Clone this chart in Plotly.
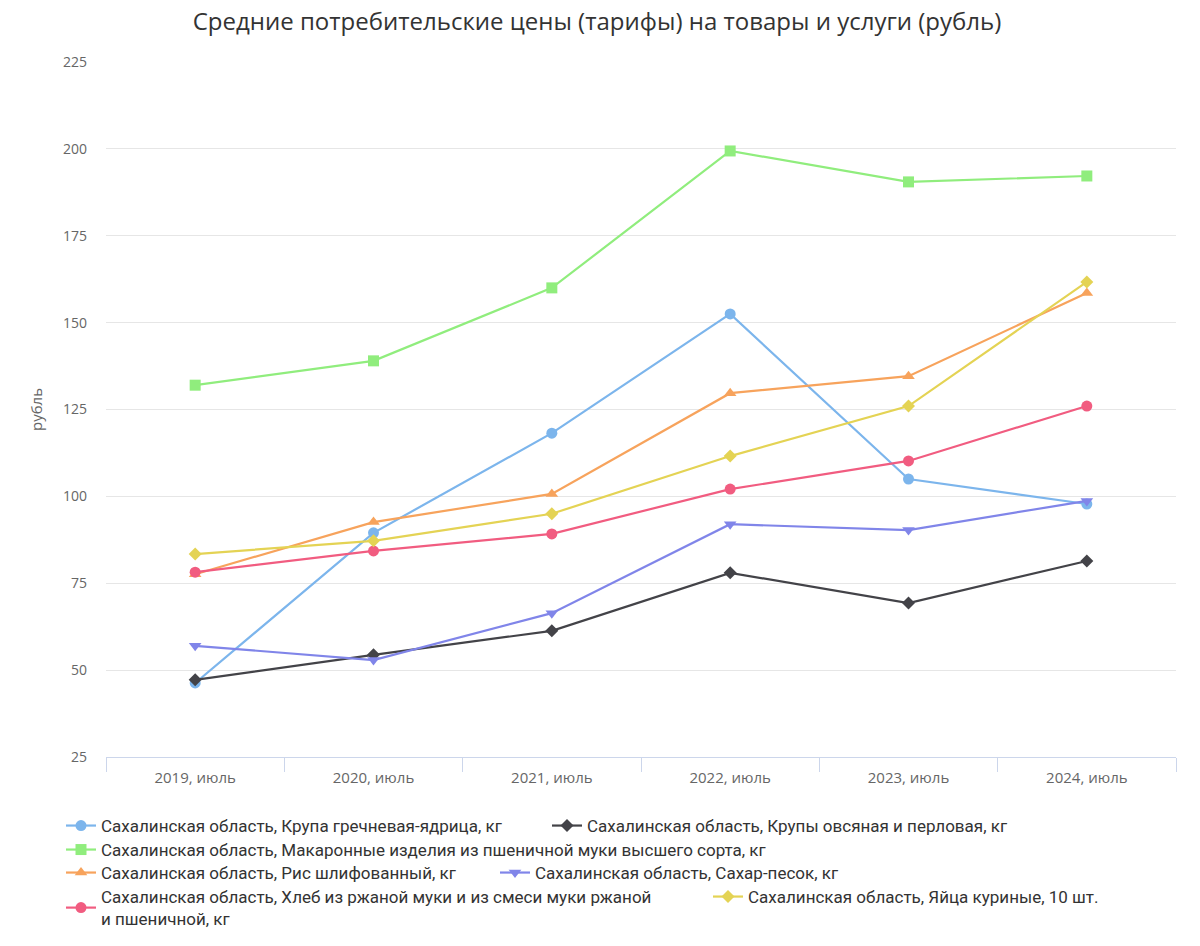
import plotly.graph_objects as go

categories = ["2019, июль", "2020, июль", "2021, июль", "2022, июль", "2023, июль", "2024, июль"]

buckwheat = [46.3, 89.5, 118.2, 152.5, 105.0, 97.8]
oat_pearl = [47.2, 54.4, 61.3, 78.0, 69.3, 81.4]
pasta = [132.0, 139.0, 160.0, 199.4, 190.5, 192.2]
rice = [77.6, 92.6, 100.7, 129.7, 134.6, 158.5]
sugar = [57.0, 52.9, 66.4, 92.0, 90.3, 98.7]
bread = [78.2, 84.3, 89.2, 102.1, 110.2, 126.0]
eggs = [83.4, 87.2, 95.0, 111.6, 126.0, 161.7]

names = [
    "Сахалинская область, Крупа гречневая-ядрица, кг",
    "Сахалинская область, Крупы овсяная и перловая, кг",
    "Сахалинская область, Макаронные изделия из пшеничной муки высшего сорта, кг",
    "Сахалинская область, Рис шлифованный, кг",
    "Сахалинская область, Сахар-песок, кг",
    "Сахалинская область, Хлеб из ржаной муки и из смеси муки ржаной<br>и пшеничной, кг",
    "Сахалинская область, Яйца куриные, 10 шт.",
]
series = [buckwheat, oat_pearl, pasta, rice, sugar, bread, eggs]
colors = ["#7cb5ec", "#434348", "#90ed7d", "#f7a35c", "#8085e9", "#f15c80", "#e4d354"]
symbols = ["circle", "diamond", "square", "triangle-up", "triangle-down", "circle", "diamond"]
sizes = [11, 10, 11, 11, 11, 11, 10]

legend_ids = ["legend2", "legend3", "legend4", "legend5", "legend6", "legend7", "legend8"]
# page offset (body margin) is 8px; target plot area in screenshot px
OFF = 8
L0 = 106
R0 = 1176
T0 = 62
B0 = 757
W = R0 - L0
H = B0 - T0
FW, FH = 1200, 946

def px_x(x):
    return (x - L0) / W

def px_y(y):
    return (B0 - y) / H

legend_pos = [
    (61, 808), (547, 808),
    (61, 832),
    (61, 855), (495, 855),
    (61, 879), (708, 879),
]

fig = go.Figure()
for i, (nm, vals) in enumerate(zip(names, series)):
    fig.add_trace(go.Scatter(
        x=categories, y=vals, name=nm, mode="lines+markers",
        line=dict(color=colors[i], width=2.2),
        marker=dict(symbol=symbols[i], size=sizes[i], color=colors[i]),
        legend=legend_ids[i],
    ))

layout_legends = {}
for i, lid in enumerate(legend_ids):
    lx, ly = legend_pos[i]
    layout_legends[lid] = dict(
        x=px_x(lx), y=px_y(ly), xanchor="left", yanchor="top",
        orientation="h", bgcolor="rgba(0,0,0,0)",
        font=dict(family="Roboto", size=17, color="#333333"),
        itemwidth=30, tracegroupgap=0,
    )

fig.update_layout(
    width=FW, height=FH,
    paper_bgcolor="white", plot_bgcolor="white",
    margin=dict(l=L0 - OFF, r=FW + OFF - R0, t=T0 - OFF, b=FH + OFF - B0, autoexpand=False),
    title=dict(text="Средние потребительские цены (тарифы) на товары и услуги (рубль)",
               x=(597 - OFF) / FW, xanchor="center", y=1.0, yanchor="top",
               pad=dict(t=5, b=0, l=0, r=0),
               font=dict(family="Open Sans", size=24, color="#333333")),
    xaxis=dict(
        type="category", range=[-0.5, 5.5],
        showgrid=False, showline=True, linecolor="#ccd6eb", linewidth=1,
        ticks="outside", tickson="boundaries", ticklen=14, tickcolor="#ccd6eb",
        tickfont=dict(family="Open Sans", size=15, color="#666666"),
        ticklabelstandoff=7,
        zeroline=False,
    ),
    yaxis=dict(
        range=[25, 225], dtick=25, tick0=25,
        showgrid=True, gridcolor="#e6e6e6", gridwidth=1,
        showline=False, zeroline=False,
        tickfont=dict(family="Open Sans", size=14, color="#666666"),
        title=dict(text="рубль", font=dict(family="Open Sans", size=15, color="#666666"), standoff=16),
        ticklabelstandoff=18,
    ),
    hovermode="closest",
    **layout_legends,
)

fig.write_html("out.html")
